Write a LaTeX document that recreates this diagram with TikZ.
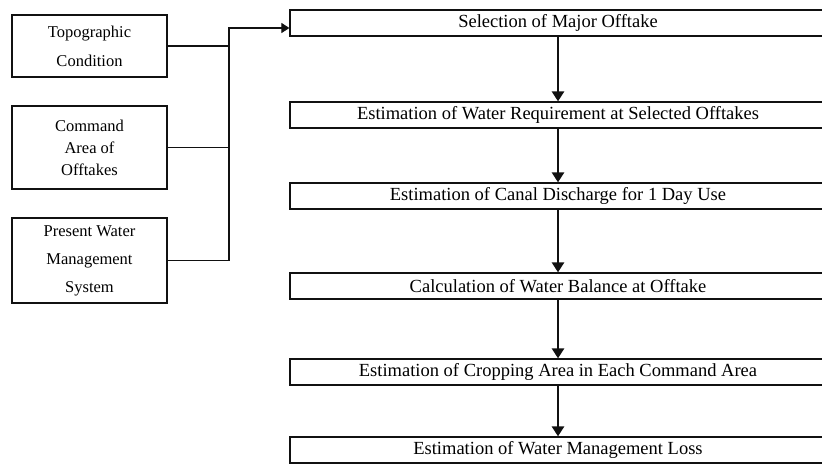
\documentclass[tikz,border=0pt]{standalone}
\usepackage{fontspec}
\setmainfont{Liberation Serif}
\usetikzlibrary{arrows.meta,positioning}
\definecolor{flowink}{HTML}{111111}
\tikzset{
  inbox/.style={draw=flowink, line width=1.5pt, align=center, minimum width=155pt, inner sep=0pt},
  stepbox/.style={draw=flowink, line width=1.2pt, minimum width=536pt, minimum height=26pt, inner sep=0pt, font=\fontsize{18.5}{20}\selectfont},
  arr/.style={-{Triangle[length=10pt,width=12pt]}, line width=2.6pt, color=flowink},
  feed/.style={line width=1.1pt, color=flowink},
}
\begin{document}
\begin{tikzpicture}[x=1pt,y=-1pt]
  \useasboundingbox (0,0) rectangle (822,469);
  % input conditions
  \node[inbox, minimum height=62pt, font=\fontsize{16.5}{29}\selectfont] (topo) at (89.5,46) {Topographic\\Condition};
  \node[inbox, minimum height=83pt, font=\fontsize{16.5}{22}\selectfont] (cmd) at (89.5,147.5) {Command\\Area of\\Offtakes};
  \node[inbox, minimum height=85pt, font=\fontsize{16.5}{28}\selectfont] (pres) at (89.5,260.5) {Present Water\\Management\\System};
  % steps
  \node[stepbox] (sel) at (558,23) {Selection of Major Offtake};
  \node[stepbox] (req) at (558,115) {Estimation of Water Requirement at Selected Offtakes};
  \node[stepbox] (dis) at (558,196) {Estimation of Canal Discharge for 1 Day Use};
  \node[stepbox] (bal) at (558,286) {Calculation of Water Balance at Offtake};
  \node[stepbox] (crop) at (558,372) {Estimation of Cropping Area in Each Command Area};
  \node[stepbox] (loss) at (558,450) {Estimation of Water Management Loss};
  % feed line
  \coordinate (bus) at (229,28);
  \draw[feed] (topo.east) -- (topo.east -| bus);
  \draw[feed] (cmd.east) -- (cmd.east -| bus);
  \draw[feed, -{Triangle[length=8pt,width=10pt]}] (pres.east) -| (bus) -- (sel.west |- bus);
  \foreach \a/\b in {sel/req,req/dis,dis/bal,bal/crop,crop/loss}
    \draw[arr] (\a.south) -- (\b.north);
\end{tikzpicture}
\end{document}
